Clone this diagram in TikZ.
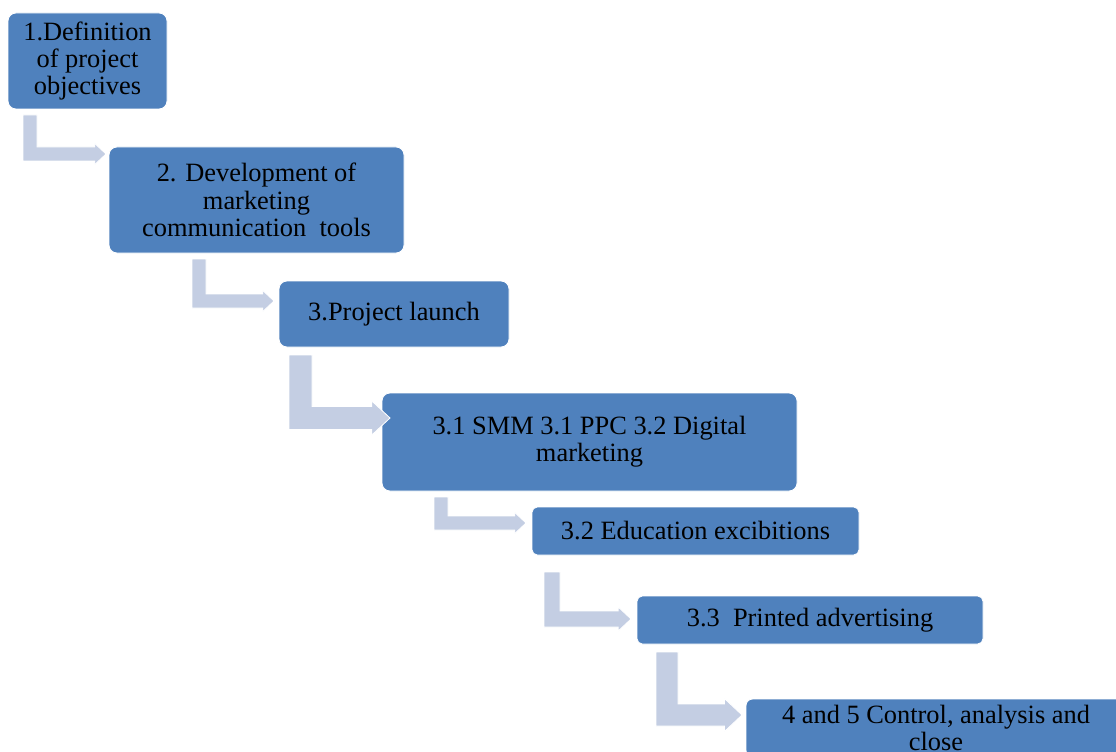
\documentclass[tikz,border=0pt]{standalone}
\usepackage{fontspec}
\setmainfont{Liberation Serif}
\usetikzlibrary{calc}

\definecolor{stepblue}{HTML}{4F81BD}
\definecolor{steplight}{HTML}{C4CEE3}

\begin{document}
\begin{tikzpicture}[
    x=0.75pt,
    y=-0.75pt,
    font=\fontsize{19.8}{20.5}\selectfont,
    stepbox/.style={
        draw=white,
        line width=0.6pt,
        fill=stepblue,
        rounded corners=6pt,
        align=center,
        inner sep=2pt,
        outer sep=0pt,
        text=black
    },
    steparrow/.style={
        fill=steplight,
        draw=white,
        line width=0.6pt
    }
]

% page frame (pixels of the reference, y down)
\useasboundingbox (0,0) rectangle (1116,752);
\clip (0,0) rectangle (1116,752);

% Step boxes
\node[stepbox, minimum width=119.25pt, minimum height=72pt] (obj) at (87.5,61)
    {1.Definition\\of project\\objectives};
\node[stepbox, minimum width=221.25pt, minimum height=79.5pt] (tools) at (256.5,200)
    {2. Development of\\marketing\\communication\ \ tools};
\node[stepbox, minimum width=172.5pt, minimum height=49.5pt] (launch) at (394,314)
    {3.Project launch};
\node[stepbox, minimum width=311.25pt, minimum height=73.5pt] (digital) at (589.5,442)
    {3.1 SMM 3.1 PPC 3.2 Digital\\marketing};
\node[stepbox, minimum width=245.25pt, minimum height=36pt, rounded corners=4pt] (exhib) at (695.5,531)
    {3.2 Education excibitions};
\node[stepbox, minimum width=259.5pt, minimum height=36pt, rounded corners=4pt] (print) at (810,620)
    {3.3\ \ Printed advertising};
\node[stepbox, minimum width=285pt, minimum height=43.5pt, rounded corners=5pt] (control) at (936,728)
    {4 and 5 Control, analysis and\\close};

% Bent arrows: from/to/bar offset/top gap/tip dx/tip dy/width
\foreach \from/\to/\dx/\gap/\tx/\ty/\w in {
    obj/tools/15/6/-3/7/14,
    tools/launch/83/6/-5/20/14,
    launch/digital/10/8/8/25/23,
    digital/exhib/52/6/-6/16/14,
    exhib/print/12/17/-6/23/16,
    print/control/19/8/-4/16/22}
{
    \coordinate (top) at ($(\from.south west)+(\dx,\gap)$);
    \coordinate (tip) at ($(\to.north west)+(\tx,\ty)$);
    \filldraw[steparrow] (top) -- ++(\w,0)
        |- ($(tip)+(-0.8*\w,-0.5*\w)$) -- ++(0,-0.25*\w) -- (tip)
        -- ($(tip)+(-0.8*\w,0.75*\w)$) -- ++(0,-0.25*\w)
        -| (top) -- cycle;
}

\end{tikzpicture}
\end{document}
